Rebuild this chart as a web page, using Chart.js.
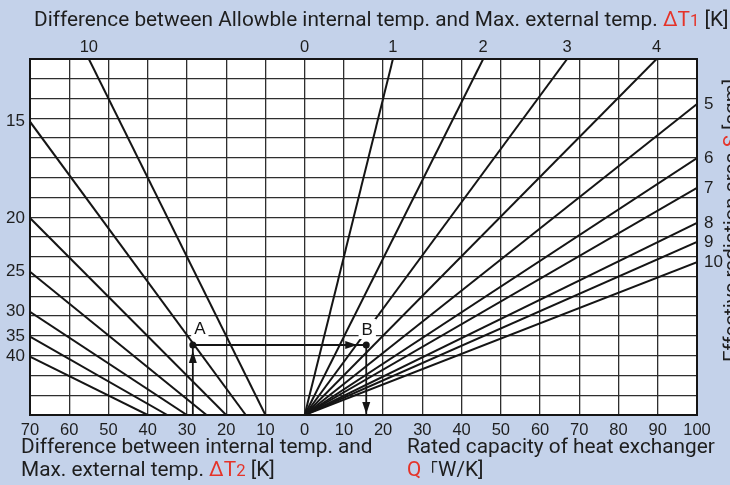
<!DOCTYPE html>
<html>
<head>
<meta charset="utf-8">
<script src="https://cdn.jsdelivr.net/npm/chart.js@4.4.0/dist/chart.umd.min.js"></script>
<style>
  html, body { margin: 0; padding: 0; }
  body {
    width: 730px; height: 485px; overflow: hidden; position: relative;
    background: #c4d2ea; color: #1e1e1e;
    font-family: Roboto, 'Noto Sans', sans-serif;
  }
  #chart { position: absolute; left: 0; top: 0; }
  .txt { position: absolute; font-size: 20.8px; line-height: 23px; white-space: nowrap; }
  .red { color: #e53329; }
  .small { font-size: 0.8em; }
  .cjk { font-family: 'Noto Sans CJK JP', sans-serif; font-size: 0.8em; }
  #side { left: 722px; top: 362px; font-size: 20.5px; line-height: 19px; transform-origin: 0 0; transform: rotate(-90deg); }
</style>
</head>
<body>
<canvas id="chart" width="730" height="485"></canvas>
<div class="txt" style="left:34px; top:8px;">Difference between Allowble internal temp. and Max. external temp. <span class="red">ΔT<span class="small">1</span></span> [K]</div>
<div class="txt" style="left:21px; top:435px;">Difference between internal temp. and<br>Max. external temp. <span class="red">ΔT<span class="small">2</span></span> [K]</div>
<div class="txt" style="left:407px; top:435px;">Rated capacity of heat exchanger<br><span class="red">Q</span><span class="cjk">「</span>W/K]</div>
<div class="txt" id="side">Effective radiation area <span class="red">S</span> [sqm]</div>
<script>
// left half: ΔT1 lines, start on the bottom axis at ΔT2, end on the top or left edge
const leftLineLabels = [10, 15, 20, 25, 30, 35, 40];
const leftLineStartX = [-10, -15, -20, -25, -30, -35, -40];
const leftLineEndX = [-55, -70, -70, -70, -70, -70, -70];
const leftLineEndY = [18, 14.83, 9.96, 7.24, 5.22, 3.96, 2.95];

// right half: S lines, all from the origin, end on the top or right edge
const rightLineLabels = [1, 2, 3, 4, 5, 6, 7, 8, 9, 10];
const rightLineEndX = [22.5, 45.5, 66.9, 89.7, 100, 100, 100, 100, 100, 100];
const rightLineEndY = [18, 18, 18, 18, 15.72, 12.99, 11.48, 9.71, 8.75, 7.73];

// bottom axis (ΔT2 to the left of 0, Q to the right)
const bottomTicks = [-70, -60, -50, -40, -30, -20, -10, 0, 10, 20, 30, 40, 50, 60, 70, 80, 90, 100];
const bottomTickLabels = ['70', '60', '50', '40', '30', '20', '10', '0', '10', '20', '30', '40', '50', '60', '70', '80', '90', '100'];

// worked example
const pointA = { x: -28.5, y: 3.54 };
const pointB = { x: 15.7, y: 3.54 };

const X_MIN = -70, X_MAX = 100, Y_MIN = 0, Y_MAX = 18;

// tick lists for the label axes, taken from where the lines leave the grid
const topTicks = [{ value: 0, label: '0' }];
leftLineLabels.forEach((k, i) => { if (leftLineEndY[i] === Y_MAX) topTicks.push({ value: leftLineEndX[i], label: String(k) }); });
rightLineLabels.forEach((s, i) => { if (rightLineEndY[i] === Y_MAX) topTicks.push({ value: rightLineEndX[i], label: String(s) }); });
topTicks.sort((a, b) => a.value - b.value);

const leftTicks = [];
leftLineLabels.forEach((k, i) => { if (leftLineEndX[i] === X_MIN) leftTicks.push({ value: leftLineEndY[i], label: String(k) }); });
const rightTicks = [];
rightLineLabels.forEach((s, i) => { if (rightLineEndX[i] === X_MAX) rightTicks.push({ value: rightLineEndY[i], label: String(s) }); });

const INK = '#151515';
const GRID = '#2e2e2e';

const datasets = [];
leftLineLabels.forEach((k, i) => {
    datasets.push({
        label: 'ΔT1 = ' + k,
        data: [{ x: leftLineStartX[i], y: 0 }, { x: leftLineEndX[i], y: leftLineEndY[i] }],
        showLine: true, borderColor: INK, borderWidth: 2, pointRadius: 0
    });
});
rightLineLabels.forEach((s, i) => {
    datasets.push({
        label: 'S = ' + s,
        data: [{ x: 0, y: 0 }, { x: rightLineEndX[i], y: rightLineEndY[i] }],
        showLine: true, borderColor: INK, borderWidth: 2, pointRadius: 0
    });
});
// example path: up to A, across to B, down to Q
datasets.push({ label: 'up', data: [{ x: pointA.x, y: 0 }, pointA], showLine: true, borderColor: INK, borderWidth: 1.8, pointRadius: 0 });
datasets.push({ label: 'across', data: [pointA, pointB], showLine: true, borderColor: INK, borderWidth: 1.8, pointRadius: 0 });
datasets.push({ label: 'down', data: [pointB, { x: pointB.x, y: 0 }], showLine: true, borderColor: INK, borderWidth: 1.8, pointRadius: 0 });
datasets.push({ label: 'points', data: [pointA, pointB], showLine: false, pointRadius: 3.5, pointBackgroundColor: INK, pointBorderWidth: 0 });

function arrowHead(ctx, x, y, dir) {
    const len = 12, half = 4;
    ctx.beginPath();
    ctx.moveTo(x, y);
    if (dir === 'up') { ctx.lineTo(x - half, y + len); ctx.lineTo(x + half, y + len); }
    if (dir === 'down') { ctx.lineTo(x - half, y - len); ctx.lineTo(x + half, y - len); }
    if (dir === 'right') { ctx.lineTo(x - len, y - half); ctx.lineTo(x - len, y + half); }
    ctx.closePath();
    ctx.fill();
}

function boxedLabel(ctx, text, x, y) {
    ctx.font = '17px "Liberation Sans", Arial, sans-serif';
    const w = ctx.measureText(text).width;
    ctx.fillStyle = '#fff';
    ctx.fillRect(x - w / 2 - 3, y - 10, w + 6, 20);
    ctx.fillStyle = INK;
    ctx.textAlign = 'center';
    ctx.textBaseline = 'middle';
    ctx.fillText(text, x, y + 1);
}

const nomogram = {
    id: 'nomogram',
    beforeDraw(chart) {
        const { ctx, chartArea: a } = chart;
        ctx.save();
        ctx.fillStyle = '#fff';
        ctx.fillRect(a.left, a.top, a.right - a.left, a.bottom - a.top);
        ctx.restore();
    },
    afterDatasetsDraw(chart) {
        const { ctx, scales: { x, y } } = chart;
        const ax = x.getPixelForValue(pointA.x), ay = y.getPixelForValue(pointA.y);
        const bx = x.getPixelForValue(pointB.x), by = y.getPixelForValue(pointB.y);
        const y0 = y.getPixelForValue(0);
        ctx.save();
        boxedLabel(ctx, 'A', ax + 7, ay - 17);
        boxedLabel(ctx, 'B', bx + 1, by - 16);
        ctx.fillStyle = INK;
        arrowHead(ctx, ax, ay + 6, 'up');
        arrowHead(ctx, bx - 9, by, 'right');
        arrowHead(ctx, bx, y0 - 1, 'down');
        ctx.restore();
    },
    afterDraw(chart) {
        const { ctx, chartArea: a } = chart;
        ctx.save();
        ctx.strokeStyle = INK;
        ctx.lineWidth = 2;
        ctx.strokeRect(a.left, a.top, a.right - a.left, a.bottom - a.top);
        ctx.restore();
    }
};

const tickFont = { family: '"Liberation Sans", Arial, sans-serif', size: 16.5 };
const sideFont = { family: '"Liberation Sans", Arial, sans-serif', size: 17 };

new Chart(document.getElementById('chart'), {
    type: 'scatter',
    data: { datasets },
    plugins: [nomogram],
    options: {
        responsive: false,
        animation: false,
        devicePixelRatio: 1,
        layout: { padding: 0 },
        plugins: { legend: { display: false }, tooltip: { enabled: false } },
        scales: {
            x: {
                type: 'linear', position: 'bottom', min: X_MIN, max: X_MAX,
                afterBuildTicks: (scale) => { scale.ticks = bottomTicks.map(v => ({ value: v })); },
                afterFit: (scale) => { scale.height = 70; },
                ticks: {
                    autoSkip: false, maxRotation: 0, padding: 6, color: '#1e1e1e', font: tickFont,
                    callback: (v, i) => bottomTickLabels[i]
                },
                grid: { color: GRID, lineWidth: 1.3, drawTicks: false },
                border: { display: false }
            },
            xTop: {
                type: 'linear', position: 'top', min: X_MIN, max: X_MAX,
                afterBuildTicks: (scale) => { scale.ticks = topTicks.map(t => ({ value: t.value })); },
                afterFit: (scale) => { scale.height = 59; },
                ticks: {
                    autoSkip: false, maxRotation: 0, padding: 2, color: '#1e1e1e', font: tickFont,
                    callback: (v, i) => topTicks[i].label
                },
                grid: { display: false, drawTicks: false },
                border: { display: false }
            },
            y: {
                type: 'linear', position: 'left', min: Y_MIN, max: Y_MAX,
                ticks: { display: false, stepSize: 1 },
                afterFit: (scale) => { scale.width = 0; },
                grid: { color: GRID, lineWidth: 1.3, drawTicks: false },
                border: { display: false }
            },
            yL: {
                type: 'linear', position: 'left', min: Y_MIN, max: Y_MAX,
                afterBuildTicks: (scale) => { scale.ticks = leftTicks.map(t => ({ value: t.value })); },
                afterFit: (scale) => { scale.width = 30; },
                ticks: {
                    autoSkip: false, padding: 5, color: '#1e1e1e', font: sideFont,
                    callback: (v, i) => leftTicks[i].label
                },
                grid: { display: false, drawTicks: false },
                border: { display: false }
            },
            yR: {
                type: 'linear', position: 'right', min: Y_MIN, max: Y_MAX,
                afterBuildTicks: (scale) => { scale.ticks = rightTicks.map(t => ({ value: t.value })); },
                afterFit: (scale) => { scale.width = 33; },
                ticks: {
                    autoSkip: false, padding: 7, color: '#1e1e1e', font: sideFont,
                    callback: (v, i) => rightTicks[i].label
                },
                grid: { display: false, drawTicks: false },
                border: { display: false }
            }
        }
    }
});
</script>
</body>
</html>
